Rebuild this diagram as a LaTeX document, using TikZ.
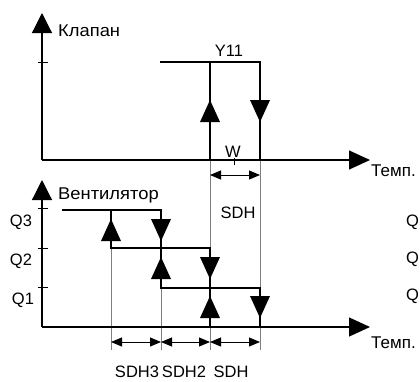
\documentclass[tikz,border=0pt]{standalone}
\usepackage{fontspec}
\setmainfont{Liberation Sans}
\usetikzlibrary{arrows.meta}
\tikzset{
  axis/.style={line width=1.2pt,-{Triangle[length=20pt,width=20pt]}},
  haxis/.style={line width=1.2pt,-{Triangle[length=21pt,width=19pt]}},
  curve/.style={line width=1.3pt},
  guide/.style={line width=0.5pt,gray},
  dim/.style={line width=0.9pt,{Triangle[length=11pt,width=9pt]}-{Triangle[length=11pt,width=9pt]}},
  tick/.style={line width=0.8pt},
  lbl/.style={inner sep=0pt,font=\fontsize{16.5}{19}\selectfont},
  cyr/.style={inner sep=0pt,font=\fontsize{17}{20}\selectfont},
  uparr/.pic={\fill (-10,11)--(10,11)--(0,-11)--cycle;},
  dnarr/.pic={\fill (-10,-11)--(10,-11)--(0,11)--cycle;}
}
\begin{document}
\begin{tikzpicture}[x=1pt,y=-1pt]
\useasboundingbox (0,0) rectangle (420,381);
% ---------- upper chart ----------
\coordinate (o1) at (42,160);
\coordinate (yt1) at (42,13);
\coordinate (xt1) at (370,160);
\draw[guide] (210,160) -- (210,350);
\draw[guide] (260,160) -- (260,350);
\draw[axis] (o1) -- (yt1);
\draw[haxis] (o1) -- (xt1);
\draw[tick] (38,62) -- (48,62);
\node[cyr,anchor=west,xscale=1.08] (klapan) at (58,31) {Клапан};
\node[cyr,anchor=west] (temp1) at (371,171) {Темп.};
\draw[curve] (160,62) -- (260,62) -- (260,160);
\draw[curve] (210,62) -- (210,160);
\draw[line width=2.4pt] (210,160) -- (310,160);
\pic at (210,111) {uparr};
\pic at (260,111) {dnarr};
\node[lbl] (y11) at (229,51) {Y11};
\node[lbl] (w) at (233,152) {W};
\draw[line width=0.6pt] (234,158) -- (234,165);
\draw[dim] (210,175) -- (260,175);
\node[lbl] (sdhtop) at (238,213) {SDH};
% ---------- lower chart ----------
\coordinate (o2) at (42,327);
\coordinate (yt2) at (42,180);
\coordinate (xt2) at (370,327);
\draw[guide] (111,248) -- (111,350);
\draw[guide] (161,288) -- (161,350);
\draw[axis] (o2) -- (yt2);
\draw[haxis] (o2) -- (xt2);
\draw[tick] (38,208) -- (48,208);
\draw[tick] (38,248) -- (48,248);
\draw[tick] (38,287) -- (48,287);
\node[cyr,anchor=west,xscale=1.08] (vent) at (58,195) {Вентилятор};
\node[cyr,anchor=west] (temp2) at (371,343) {Темп.};
\node[lbl] (q3) at (21,222) {Q3};
\node[lbl] (q2) at (21,261) {Q2};
\node[lbl] (q1) at (23,300) {Q1};
\draw[curve] (62,210) -- (161,210) -- (161,288) -- (260,288) -- (260,327);
\draw[curve] (111,210) -- (111,248) -- (210,248) -- (210,327);
\pic at (111,230) {uparr};
\pic at (161,230) {dnarr};
\pic at (161,268) {uparr};
\pic at (210,268) {dnarr};
\pic at (210,307) {uparr};
\pic at (260,307) {dnarr};
\draw[dim] (111,342) -- (161,342);
\draw[dim] (161,342) -- (210,342);
\draw[dim] (210,342) -- (260,342);
\node[lbl] (sdh3) at (137,372) {SDH3};
\node[lbl] (sdh2) at (184,372) {SDH2};
\node[lbl] (sdh) at (231,372) {SDH};
% ---------- labels at right edge ----------
\node[lbl,anchor=west] (qa) at (406,222) {Q};
\node[lbl,anchor=west] (qb) at (406,259) {Q};
\node[lbl,anchor=west] (qc) at (406,296) {Q};
\end{tikzpicture}
\end{document}
